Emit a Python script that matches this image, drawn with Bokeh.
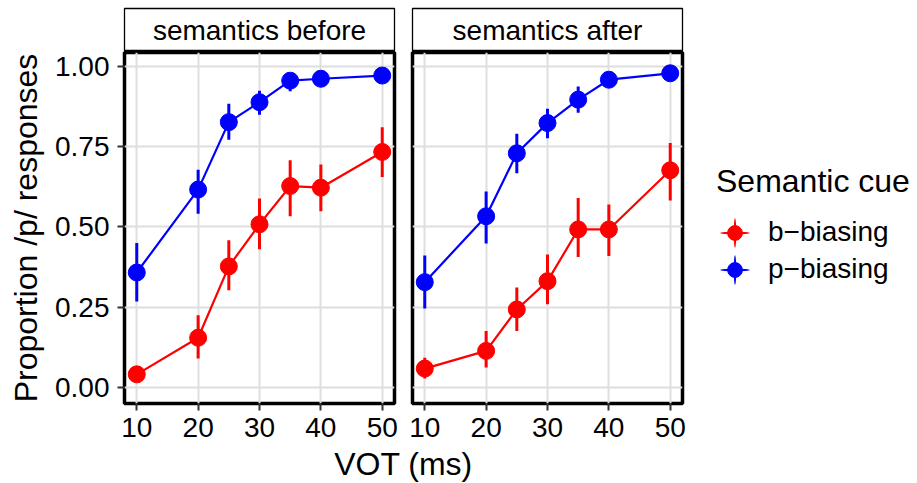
from bokeh.plotting import figure
from bokeh.models import (Range1d, FixedTicker, NumeralTickFormatter, Legend,
                          LegendItem, Label, ColumnDataSource)
from bokeh.layouts import row, column
from bokeh.embed import file_html
from bokeh.resources import INLINE

FONT = "Liberation Sans"

# ---------------- data ----------------
vot = [10, 20, 25, 30, 35, 40, 50]
x_ticks = [10, 20, 30, 40, 50]
y_ticks = [0.0, 0.25, 0.5, 0.75, 1.0]
panel_titles = ["semantics before", "semantics after"]
cue_labels = ["b\u2212biasing", "p\u2212biasing"]
cue_colors = ["#FF0000", "#0000FF"]

before_b = [0.041, 0.155, 0.377, 0.508, 0.627, 0.622, 0.733]
before_b_lo = [0.020, 0.090, 0.303, 0.430, 0.533, 0.549, 0.655]
before_b_hi = [0.065, 0.225, 0.458, 0.588, 0.707, 0.694, 0.810]
before_p = [0.358, 0.616, 0.826, 0.888, 0.955, 0.961, 0.971]
before_p_lo = [0.268, 0.541, 0.771, 0.849, 0.922, 0.945, 0.955]
before_p_hi = [0.450, 0.678, 0.883, 0.924, 0.975, 0.975, 0.985]

after_b = [0.059, 0.114, 0.243, 0.331, 0.492, 0.492, 0.676]
after_b_lo = [0.028, 0.062, 0.176, 0.259, 0.406, 0.409, 0.582]
after_b_hi = [0.093, 0.176, 0.311, 0.414, 0.590, 0.570, 0.761]
after_p = [0.328, 0.533, 0.729, 0.823, 0.896, 0.958, 0.978]
after_p_lo = [0.246, 0.448, 0.667, 0.776, 0.855, 0.940, 0.965]
after_p_hi = [0.411, 0.610, 0.790, 0.868, 0.937, 0.975, 0.990]

STRIP_H = 51
MAIN_H = 396
XLAB_H = 35


def make_strip(width, mbl, mbr, text):
    s = figure(width=width, height=STRIP_H, x_range=Range1d(0, 1), y_range=Range1d(0, 1),
               output_backend="svg", toolbar_location=None,
               x_axis_location=None, y_axis_location=None,
               min_border_left=mbl, min_border_right=mbr, min_border_top=8, min_border_bottom=0)
    s.xgrid.visible = False
    s.ygrid.visible = False
    s.outline_line_color = "black"
    s.outline_line_width = 1.3
    s.background_fill_color = "white"
    s.border_fill_color = "white"
    s.add_layout(Label(x=135, y=21, x_units="screen", y_units="screen", text=text,
                       text_align="center", text_baseline="middle",
                       text_font=FONT, text_font_size="28px", text_color="black"))
    return s


def make_main(width, mbl, mbr, with_yaxis):
    p = figure(width=width, height=MAIN_H, x_range=Range1d(8, 52), y_range=Range1d(-0.0497, 1.0427),
               output_backend="svg", toolbar_location=None,
               y_axis_location="left" if with_yaxis else None,
               min_border_left=mbl, min_border_right=mbr, min_border_top=1, min_border_bottom=44)
    p.outline_line_color = "black"
    p.outline_line_width = 3.5
    p.background_fill_color = "white"
    p.border_fill_color = "white"
    p.xgrid.ticker = FixedTicker(ticks=x_ticks)
    p.ygrid.ticker = FixedTicker(ticks=y_ticks)
    for g in list(p.xgrid) + list(p.ygrid):
        g.grid_line_color = "#DEDEDE"
        g.grid_line_width = 2
        g.minor_grid_line_color = None
    axes = list(p.xaxis) + (list(p.yaxis) if with_yaxis else [])
    for ax in axes:
        ax.axis_line_color = None
        ax.major_tick_line_color = "#333333"
        ax.major_tick_line_width = 2
        ax.major_tick_out = 7
        ax.major_tick_in = 0
        ax.minor_tick_line_color = None
        ax.major_label_text_font = FONT
        ax.major_label_text_font_size = "28px"
        ax.major_label_text_color = "black"
    p.xaxis.ticker = FixedTicker(ticks=x_ticks)
    p.xaxis.major_label_standoff = 7
    if with_yaxis:
        p.yaxis.ticker = FixedTicker(ticks=y_ticks)
        p.yaxis.formatter = NumeralTickFormatter(format="0.00")
        p.yaxis.major_label_standoff = 8
        p.yaxis.axis_label = "Proportion /p/ responses"
        p.yaxis.axis_label_text_font = FONT
        p.yaxis.axis_label_text_font_size = "32px"
        p.yaxis.axis_label_text_font_style = "normal"
        p.yaxis.axis_label_text_color = "black"
        p.yaxis.axis_label_standoff = 8
    return p


def key_glyphs(p, src, color):
    # thin ellipses (hidden under the points in the panels) give the legend key its cross
    kh = p.ellipse(x="x", y="y", width=14, height=1.2, width_units="screen", height_units="screen",
                   source=src, fill_color=color, line_color=None)
    kv = p.ellipse(x="x", y="y", width=1.2, height=14, width_units="screen", height_units="screen",
                   source=src, fill_color=color, line_color=None)
    return [kh, kv]


def draw_series(p, y, lo, hi, color):
    src = ColumnDataSource(dict(x=vot, y=y, lo=lo, hi=hi))
    p.line("x", "y", source=src, line_color=color, line_width=2.2)
    p.segment(x0="x", y0="lo", x1="x", y1="hi", source=src, line_color=color, line_width=3)
    key_glyphs(p, src, color)
    p.scatter("x", "y", source=src, size=17, fill_color=color, line_color=color)
    return src


stripL = make_strip(404, 124, 10, panel_titles[0])
stripR = make_strip(282, 8, 4, panel_titles[1])
mainL = make_main(404, 124, 10, True)
mainR = make_main(282, 8, 4, False)

draw_series(mainL, before_b, before_b_lo, before_b_hi, cue_colors[0])
draw_series(mainL, before_p, before_p_lo, before_p_hi, cue_colors[1])
src_b = draw_series(mainR, after_b, after_b_lo, after_b_hi, cue_colors[0])
src_p = draw_series(mainR, after_p, after_p_lo, after_p_hi, cue_colors[1])

# legend figure: its own frame holds only the legend (the series lie outside its ranges)
leg = figure(width=230, height=STRIP_H + MAIN_H, x_range=Range1d(0, 1), y_range=Range1d(0, 1),
             output_backend="svg", toolbar_location=None,
             x_axis_location=None, y_axis_location=None, min_border=0)
leg.xgrid.visible = False
leg.ygrid.visible = False
leg.outline_line_color = None
items = []
for src, color, lab in zip([src_b, src_p], cue_colors, cue_labels):
    rs = key_glyphs(leg, src, color)
    rs.append(leg.scatter("x", "y", source=src, size=17, fill_color=color, line_color=color))
    items.append(LegendItem(label=lab, renderers=rs))

legend = Legend(
    items=items, location=(30, 159.5), title="Semantic cue",
    title_text_font=FONT, title_text_font_size="32px", title_text_font_style="normal",
    title_text_color="black", title_standoff=14,
    label_text_font=FONT, label_text_font_size="28px", label_text_color="black",
    glyph_width=37, glyph_height=37, spacing=0, label_standoff=15,
    padding=0, margin=0, border_line_color=None, background_fill_alpha=0,
)
leg.add_layout(legend)

xlab = figure(width=916, height=XLAB_H, x_range=Range1d(0, 1), y_range=Range1d(0, 1),
              output_backend="svg", toolbar_location=None,
              x_axis_location=None, y_axis_location=None, min_border=0)
xlab.xgrid.visible = False
xlab.ygrid.visible = False
xlab.outline_line_color = None
xlab.add_layout(Label(x=403, y=18.5, x_units="screen", y_units="screen", text="VOT (ms)",
                      text_align="center", text_baseline="middle",
                      text_font=FONT, text_font_size="32px", text_color="black"))

layout = column(row(column(stripL, mainL), column(stripR, mainR), leg), xlab)

open("out.html", "w").write(file_html(layout, INLINE))
